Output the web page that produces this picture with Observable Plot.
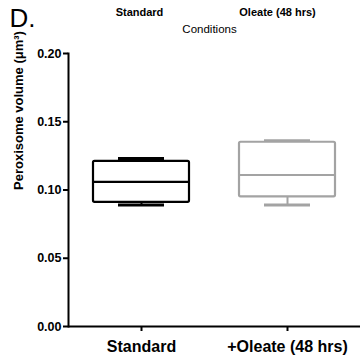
<!DOCTYPE html>
<html>
<head>
<meta charset="utf-8">
<script src="https://cdn.jsdelivr.net/npm/d3@7"></script>
<script src="https://cdn.jsdelivr.net/npm/@observablehq/plot@0.6"></script>
<style>
  html, body { margin: 0; padding: 0; background: #fff; }
  #chart svg { display: block; }
</style>
</head>
<body>
<div id="chart"></div>
<script>
const conditions = ["Standard", "+Oleate (48 hrs)"];
const topLabels = ["Standard", "Oleate (48 hrs)"];
const minV = [0.089, 0.089];
const q1V = [0.091, 0.095];
const medV = [0.106, 0.111];
const q3V = [0.121, 0.135];
const maxV = [0.123, 0.136];
const strokeColors = ["#000000", "#a3a3a3"];
const yTicks = [0, 0.05, 0.10, 0.15, 0.20];

const rows = conditions.map((c, i) => ({
  cond: c, min: minV[i], q1: q1V[i], med: medV[i], q3: q3V[i], max: maxV[i], color: strokeColors[i]
}));

const font = "Liberation Sans, Arial, Helvetica, sans-serif";

const chart = Plot.plot({
  width: 360,
  height: 360,
  marginLeft: 68,
  marginRight: 0,
  marginTop: 53,
  marginBottom: 34,
  style: { fontFamily: font, background: "#fff", color: "#000", overflow: "visible" },
  x: { type: "band", domain: conditions, padding: 0 },
  y: { domain: [0, 0.2] },
  color: { type: "identity" },
  marks: [
    // whisker stems
    Plot.ruleX(rows, { x: "cond", y1: "min", y2: "q1", stroke: "color", strokeWidth: 2 }),
    Plot.ruleX(rows, { x: "cond", y1: "q3", y2: "max", stroke: "color", strokeWidth: 2 }),
    // caps
    Plot.tickY(rows, { x: "cond", y: "min", stroke: "color", strokeWidth: 3, insetLeft: 50, insetRight: 50 }),
    Plot.tickY(rows, { x: "cond", y: "max", stroke: "color", strokeWidth: 3, insetLeft: 50, insetRight: 50 }),
    // boxes
    Plot.barY(rows, { x: "cond", y1: "q1", y2: "q3", fill: "#fff", stroke: "color", strokeWidth: 2.2, insetLeft: 25, insetRight: 25, rx: 1.5 }),
    // medians
    Plot.tickY(rows, { x: "cond", y: "med", stroke: "color", strokeWidth: 2.2, insetLeft: 25, insetRight: 25 }),
    // axes
    Plot.axisY({ ticks: yTicks, tickFormat: d3.format(".2f"), tickSize: 5, tickPadding: 2, fontSize: 12.5, fontWeight: "bold", strokeWidth: 2, label: null }),
    Plot.axisX({ tickSize: 5, tickPadding: 9, fontSize: 16, fontWeight: "bold", strokeWidth: 2, label: null }),
    Plot.frame({ anchor: "left", strokeWidth: 2 }),
    Plot.ruleY([0], { strokeWidth: 2 }),
    // y label
    Plot.text(["Peroxisome volume (μm³)"], { frameAnchor: "left", dx: -50, rotate: -90, fontSize: 13, fontWeight: "bold", text: d => d }),
    // top condition labels
    Plot.text([rows[0]], { x: "cond", frameAnchor: "top", dy: -45, dx: -2, text: () => topLabels[0], fontSize: 11, fontWeight: "bold" }),
    Plot.text([rows[1]], { x: "cond", frameAnchor: "top", dy: -45, dx: -10, text: () => topLabels[1], fontSize: 11, fontWeight: "bold" }),
    Plot.text(["Conditions"], { frameAnchor: "top", dy: -29, dx: -5, text: d => d, fontSize: 11.5 }),
    // panel letter
    Plot.text(["D."], { frameAnchor: "top-left", dx: -59, dy: -45, textAnchor: "start", lineAnchor: "top", text: d => d, fontSize: 26 })
  ]
});

document.getElementById("chart").appendChild(chart);
</script>
</body>
</html>
